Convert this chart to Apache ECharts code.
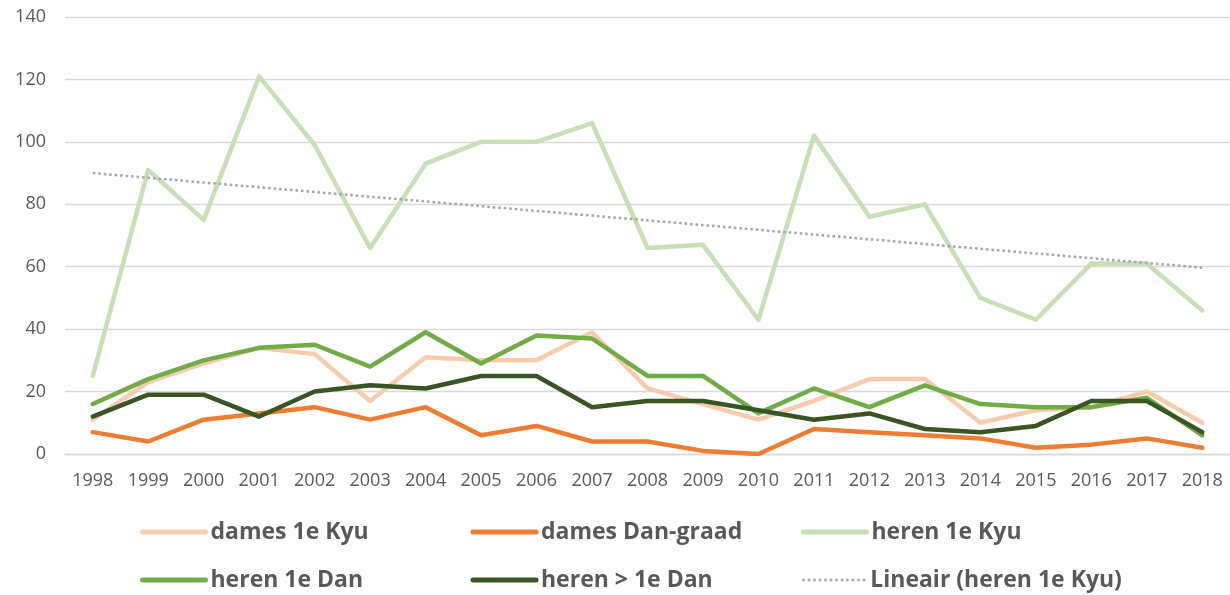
<!DOCTYPE html>
<html>
<head>
<meta charset="utf-8">
<script src="https://cdn.jsdelivr.net/npm/echarts@6/dist/echarts.min.js"></script>
<style>
  html, body { margin: 0; padding: 0; background: #fff; }
  #chart { width: 1230px; height: 595px; }
</style>
</head>
<body>
<div id="chart"></div>
<script>
// jaren op de x-as
const years = ['1998', '1999', '2000', '2001', '2002', '2003', '2004', '2005', '2006', '2007',
  '2008', '2009', '2010', '2011', '2012', '2013', '2014', '2015', '2016', '2017', '2018'];

const damesKyu = [11, 23, 29, 34, 32, 17, 31, 30, 30, 39, 21, 16, 11, 17, 24, 24, 10, 14, 15, 20, 10];
const damesDan = [7, 4, 11, 13, 15, 11, 15, 6, 9, 4, 4, 1, 0, 8, 7, 6, 5, 2, 3, 5, 2];
const herenKyu = [25, 91, 75, 121, 99, 66, 93, 100, 100, 106, 66, 67, 43, 102, 76, 80, 50, 43, 61, 61, 46];
const herenDan = [16, 24, 30, 34, 35, 28, 39, 29, 38, 37, 25, 25, 13, 21, 15, 22, 16, 15, 15, 18, 6];
const herenMeerDan = [12, 19, 19, 12, 20, 22, 21, 25, 25, 15, 17, 17, 14, 11, 13, 8, 7, 9, 17, 17, 7];
// trendlijn: alleen begin- en eindwaarde
const trendKyu = [90, null, null, null, null, null, null, null, null, null,
  null, null, null, null, null, null, null, null, null, null, 59.7];

const yTicks = [0, 20, 40, 60, 80, 100, 120, 140];

const chart = echarts.init(document.getElementById('chart'));

function lineSeries(name, data, color) {
  return {
    name: name,
    type: 'line',
    data: data,
    symbol: 'none',
    lineStyle: { color: color, width: 4.5, cap: 'round', join: 'round' },
    itemStyle: { color: color },
    emphasis: { disabled: true }
  };
}

function legendItem(name, width, cap) {
  return { name: name, lineStyle: { width: width, cap: cap } };
}

const option = {
  animation: false,
  textStyle: { fontFamily: 'Open Sans' },
  grid: { left: 65, right: 0, top: 17, bottom: 141 },
  xAxis: {
    type: 'category',
    data: years,
    boundaryGap: true,
    axisTick: { show: false },
    axisLine: { lineStyle: { color: '#D9D9D9', width: 1.3 } },
    axisLabel: { color: '#595959', fontSize: 18, margin: 18, interval: 0 }
  },
  yAxis: {
    type: 'value',
    min: yTicks[0],
    max: yTicks[yTicks.length - 1],
    interval: 20,
    axisLine: { show: false },
    axisTick: { show: false },
    splitLine: { lineStyle: { color: '#D9D9D9', width: 1.3 } },
    axisLabel: { color: '#595959', fontSize: 18, margin: 19 }
  },
  legend: {
    left: 140,
    top: 513,
    width: 1000,
    padding: 0,
    itemWidth: 63,
    itemHeight: 14,
    itemGap: 10,
    itemStyle: { opacity: 0 },
    textStyle: {
      color: '#595959',
      fontSize: 23,
      fontWeight: 'bold',
      width: 250,
      lineHeight: 38
    },
    data: [
      legendItem('dames 1e Kyu', 5, 'round'),
      legendItem('dames Dan-graad', 5, 'round'),
      legendItem('heren 1e Kyu', 5, 'round'),
      legendItem('heren 1e Dan', 5, 'round'),
      legendItem('heren > 1e Dan', 5, 'round'),
      legendItem('Lineair (heren 1e Kyu)', 2.5, 'butt')
    ]
  },
  series: [
    lineSeries('dames 1e Kyu', damesKyu, '#F8CBAD'),
    lineSeries('dames Dan-graad', damesDan, '#ED7D31'),
    lineSeries('heren 1e Kyu', herenKyu, '#C5E0B4'),
    lineSeries('heren 1e Dan', herenDan, '#70AD47'),
    lineSeries('heren > 1e Dan', herenMeerDan, '#375623'),
    {
      name: 'Lineair (heren 1e Kyu)',
      type: 'line',
      data: trendKyu,
      connectNulls: true,
      symbol: 'none',
      lineStyle: { color: '#A5A5A5', width: 2.5, type: [2.5, 3] },
      itemStyle: { color: '#A5A5A5' },
      emphasis: { disabled: true }
    }
  ]
};

chart.setOption(option);
</script>
</body>
</html>
